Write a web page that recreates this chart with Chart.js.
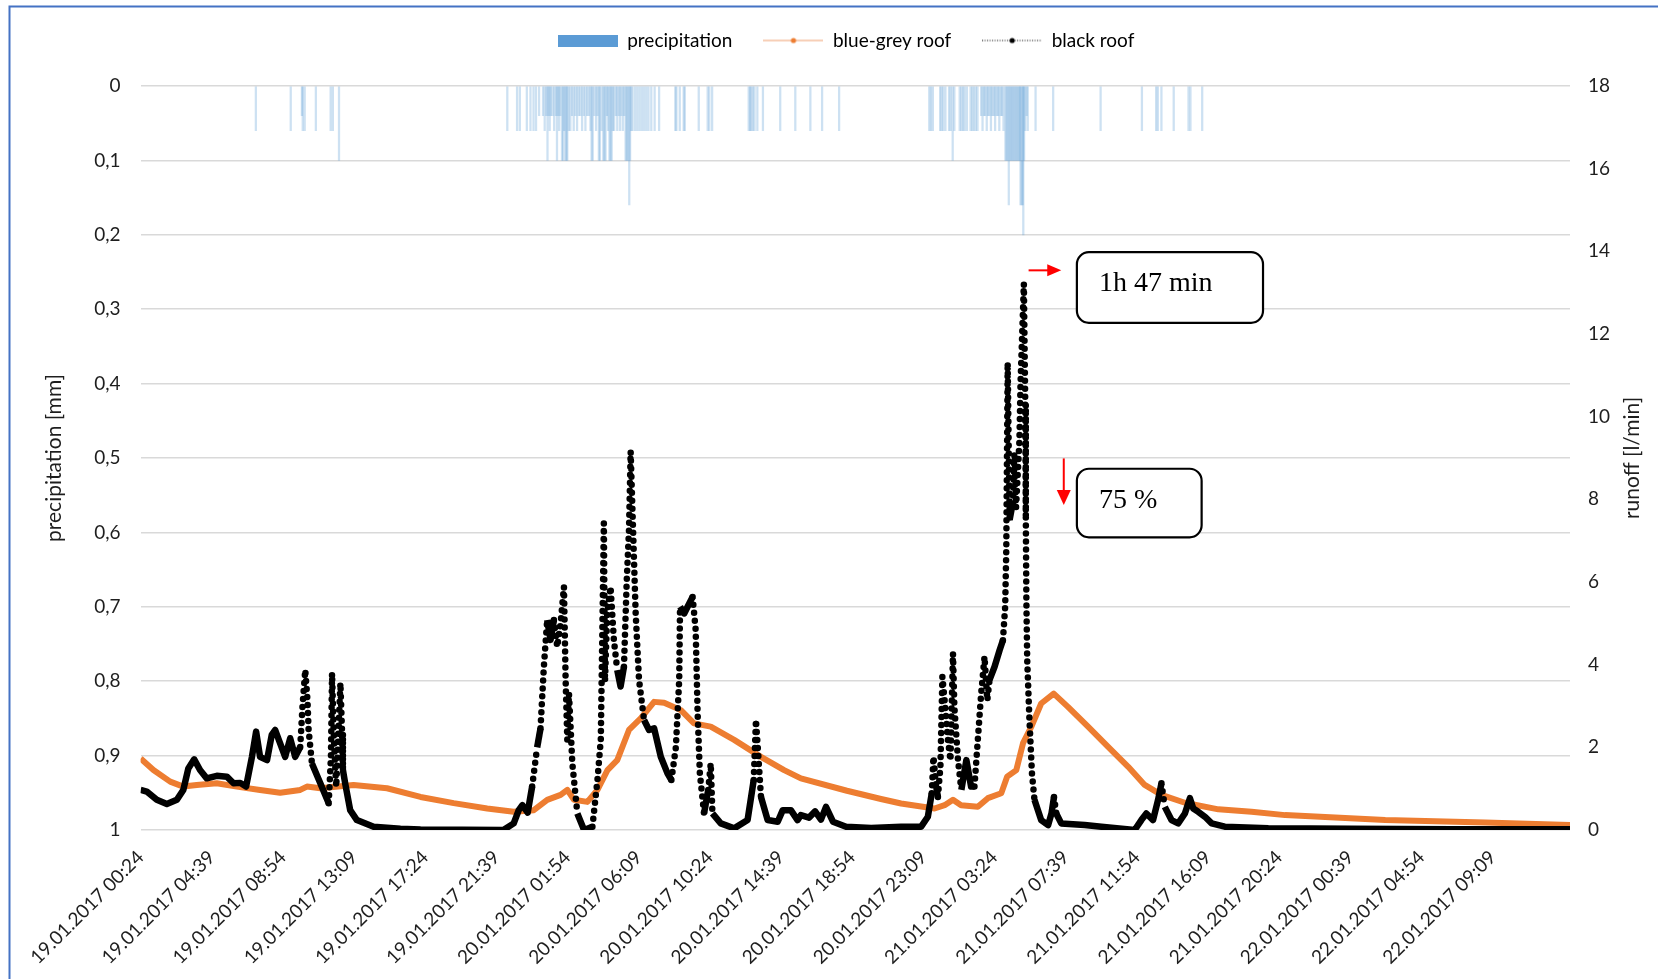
<!DOCTYPE html>
<html>
<head>
<meta charset="utf-8">
<script src="https://cdn.jsdelivr.net/npm/chart.js@4.4.1/dist/chart.umd.min.js"></script>
<style>
  html, body { margin: 0; padding: 0; background: #fff; }
  #wrap { width: 1658px; height: 979px; position: relative; }
</style>
</head>
<body>
<div id="wrap"><canvas id="runoffChart"></canvas></div>
<script>
// time axis: minutes after 19.01.2017 00:24 (one reading per minute in the original)
const tickLabels = [
  '19.01.2017 00:24', '19.01.2017 04:39', '19.01.2017 08:54', '19.01.2017 13:09',
  '19.01.2017 17:24', '19.01.2017 21:39', '20.01.2017 01:54', '20.01.2017 06:09',
  '20.01.2017 10:24', '20.01.2017 14:39', '20.01.2017 18:54', '20.01.2017 23:09',
  '21.01.2017 03:24', '21.01.2017 07:39', '21.01.2017 11:54', '21.01.2017 16:09',
  '21.01.2017 20:24', '22.01.2017 00:39', '22.01.2017 04:54', '22.01.2017 09:09'
];

// precipitation [mm], bars hanging from the top axis
const precipMin = [
  413, 538, 578, 581, 588, 628, 681, 689, 711,
  1314, 1349, 1359, 1384, 1397, 1408, 1417, 1428,
  1442, 1448, 1454, 1458, 1462, 1466, 1470, 1476, 1482, 1488, 1492,
  1496, 1500, 1504, 1510, 1514, 1518, 1522, 1526, 1529, 1534, 1540,
  1546, 1552, 1558, 1564, 1570, 1576, 1582, 1588, 1594, 1600, 1606, 1612, 1616, 1620, 1626,
  1632, 1637, 1642, 1646, 1652, 1658, 1662, 1666, 1671, 1675, 1680, 1684, 1688, 1692, 1697,
  1703, 1708, 1713, 1718, 1723, 1728, 1733, 1738, 1742, 1746, 1751, 1754, 1758, 1763,
  1772, 1780, 1788, 1796, 1804, 1812, 1820, 1830, 1842, 1858,
  1916, 1920, 1932, 1946, 1950, 2000, 2032, 2038, 2048,
  2179, 2184, 2188, 2194, 2200, 2210, 2230, 2292, 2346, 2400, 2442, 2503,
  2826, 2832, 2839, 2865, 2870, 2876, 2884, 2897, 2903, 2910, 2916,
  2935, 2941, 2947, 2953, 2961, 2974, 2980, 2986, 2993, 2999,
  3012, 3017, 3022, 3027, 3032, 3037, 3042, 3047, 3052, 3057, 3062, 3067, 3072, 3077, 3082, 3087, 3092,
  3099, 3103, 3107, 3111, 3115, 3119, 3123, 3127, 3131, 3135, 3139, 3143, 3147, 3151,
  3153, 3157, 3161, 3163, 3166, 3170, 3175, 3179,
  3207, 3270, 3440, 3588, 3639, 3645, 3658, 3702, 3755, 3762, 3804
];
const precipMm = [
  0.06, 0.06, 0.04, 0.06, 0.06, 0.06, 0.06, 0.06, 0.1,
  0.06, 0.06, 0.06, 0.06, 0.06, 0.06, 0.06, 0.04,
  0.04, 0.06, 0.04, 0.1, 0.04, 0.06, 0.04, 0.04, 0.06, 0.04, 0.1,
  0.04, 0.06, 0.04, 0.1, 0.1, 0.06, 0.1, 0.1, 0.1, 0.06, 0.06,
  0.04, 0.06, 0.04, 0.06, 0.04, 0.04, 0.06, 0.04, 0.06, 0.04, 0.04, 0.06, 0.1, 0.1, 0.04,
  0.06, 0.04, 0.1, 0.1, 0.06, 0.1, 0.1, 0.1, 0.04, 0.06, 0.1, 0.1, 0.1, 0.06, 0.06,
  0.04, 0.06, 0.04, 0.06, 0.04, 0.06, 0.04, 0.1, 0.1, 0.1, 0.16, 0.1, 0.06, 0.06,
  0.06, 0.06, 0.06, 0.06, 0.06, 0.06, 0.06, 0.06, 0.06, 0.06,
  0.06, 0.06, 0.06, 0.06, 0.06, 0.06, 0.06, 0.06, 0.06,
  0.06, 0.06, 0.06, 0.06, 0.06, 0.06, 0.06, 0.06, 0.06, 0.06, 0.06, 0.06,
  0.06, 0.06, 0.06, 0.06, 0.06, 0.06, 0.06, 0.06, 0.06, 0.1, 0.06,
  0.06, 0.06, 0.06, 0.06, 0.06, 0.06, 0.06, 0.06, 0.06, 0.06,
  0.04, 0.06, 0.04, 0.04, 0.06, 0.04, 0.04, 0.06, 0.04, 0.04, 0.06, 0.04, 0.04, 0.06, 0.04, 0.04, 0.06,
  0.1, 0.1, 0.1, 0.16, 0.1, 0.1, 0.1, 0.1, 0.1, 0.1, 0.1, 0.1, 0.1, 0.1,
  0.16, 0.16, 0.16, 0.2, 0.1, 0.06, 0.04, 0.06,
  0.06, 0.06, 0.06, 0.06, 0.06, 0.06, 0.06, 0.06, 0.06, 0.06, 0.06
];

// runoff [l/min], blue-grey roof
const greyMin = [
  0, 46, 106, 153, 201, 273, 345, 428, 500, 572,
  596, 644, 763, 883, 1003, 1122, 1242, 1337, 1409, 1457,
  1505, 1529, 1553, 1601, 1637, 1673, 1708, 1750, 1792, 1840,
  1876, 1936, 1983, 2043, 2127, 2223, 2306, 2366, 2531, 2653,
  2725, 2845, 2881, 2911, 2940, 3000, 3036, 3084, 3105, 3138,
  3162, 3192, 3227, 3272, 3323, 3395, 3467, 3539, 3598, 3658,
  3742, 3862, 3981, 4101, 4460, 4818, 5122
];
const greyRunoff = [
  1.73, 1.45, 1.17, 1.05, 1.09, 1.13, 1.05, 0.97, 0.90, 0.97,
  1.05, 1.01, 1.09, 1.01, 0.80, 0.65, 0.52, 0.44, 0.48, 0.73,
  0.85, 0.97, 0.73, 0.68, 0.97, 1.45, 1.69, 2.42, 2.70, 3.10,
  3.08, 2.90, 2.58, 2.50, 2.18, 1.77, 1.45, 1.25, 0.95, 0.75,
  0.64, 0.52, 0.60, 0.73, 0.60, 0.56, 0.77, 0.89, 1.29, 1.45,
  2.10, 2.50, 3.06, 3.30, 2.98, 2.50, 2.01, 1.53, 1.09, 0.85,
  0.66, 0.50, 0.44, 0.36, 0.24, 0.18, 0.12
];

// runoff [l/min], black roof
const blackMin = [
  0, 22, 58, 94, 130, 153, 171, 192, 213, 237,
  273, 309, 333, 357, 378, 399, 414, 428, 453, 470,
  482, 498, 518, 536, 554, 572, 580, 590, 598, 602,
  614, 644, 674, 682, 686, 692, 701, 716, 722, 725,
  733, 751, 775, 835, 931, 1003, 1300, 1337, 1355, 1368,
  1387, 1403, 1421, 1433, 1445, 1457, 1469, 1481, 1493, 1505,
  1517, 1523, 1529, 1535, 1547, 1565, 1589, 1619, 1637, 1649,
  1660, 1664, 1672, 1684, 1696, 1708, 1720, 1732, 1742, 1750,
  1756, 1768, 1774, 1786, 1804, 1822, 1840, 1864, 1888, 1902,
  1918, 1930, 1933, 1948, 1960, 1978, 1989, 1996, 2004, 2019,
  2034, 2043, 2049, 2079, 2127, 2175, 2197, 2205, 2213, 2223,
  2247, 2283, 2301, 2330, 2354, 2366, 2395, 2417, 2438, 2456,
  2481, 2528, 2618, 2725, 2797, 2821, 2835, 2841, 2851, 2857,
  2866, 2873, 2881, 2893, 2902, 2911, 2916, 2929, 2941, 2959,
  2976, 2988, 3000, 3012, 3024, 3034, 3042, 3060, 3078, 3090,
  3098, 3102, 3107, 3111, 3114, 3125, 3131, 3137, 3143, 3149,
  3153, 3159, 3165, 3170, 3172, 3174, 3177, 3185, 3194, 3203,
  3227, 3252, 3264, 3273, 3281, 3299, 3383, 3443, 3562, 3586,
  3604, 3628, 3646, 3658, 3670, 3694, 3718, 3742, 3760, 3772,
  3790, 3814, 3838, 3885, 4041, 4340, 4699, 5122
];
const blackRunoff = [
  0.97, 0.93, 0.73, 0.63, 0.73, 0.97, 1.49, 1.71, 1.45, 1.25,
  1.31, 1.29, 1.13, 1.14, 1.05, 1.77, 2.38, 1.77, 1.69, 2.30,
  2.42, 2.13, 1.77, 2.22, 1.77, 2.01, 2.98, 3.87, 3.14, 2.42,
  1.61, 1.13, 0.65, 1.77, 3.79, 2.34, 1.05, 3.55, 2.34, 1.45,
  1.13, 0.48, 0.24, 0.08, 0.03, 0.01, 0.00, 0.16, 0.48, 0.60,
  0.42, 1.05, 2.00, 2.46, 3.95, 5.08, 4.60, 5.08, 4.43, 5.00,
  5.88, 3.63, 2.18, 3.30, 1.61, 0.40, 0.00, 0.08, 1.21, 2.18,
  7.42, 3.60, 5.24, 5.88, 4.59, 3.87, 3.47, 3.95, 6.04, 7.25,
  9.15, 6.53, 5.24, 3.63, 2.66, 2.42, 2.46, 1.77, 1.37, 1.21,
  2.00, 3.63, 5.40, 5.24, 5.40, 5.64, 4.84, 2.82, 1.37, 0.40,
  0.97, 1.61, 0.40, 0.16, 0.04, 0.24, 1.21, 2.66, 1.85, 0.80,
  0.24, 0.20, 0.48, 0.48, 0.24, 0.36, 0.30, 0.45, 0.25, 0.56,
  0.20, 0.08, 0.05, 0.08, 0.08, 0.32, 0.89, 1.77, 1.05, 0.80,
  1.53, 3.71, 3.14, 2.18, 1.69, 4.27, 2.98, 1.69, 0.97, 1.69,
  1.05, 1.05, 2.18, 3.30, 4.19, 3.14, 3.63, 3.95, 4.35, 4.59,
  5.40, 6.77, 11.30, 9.10, 7.50, 7.90, 9.10, 7.80, 8.60, 9.40,
  10.80, 12.00, 13.21, 10.30, 7.60, 5.56, 4.11, 2.66, 1.37, 0.73,
  0.24, 0.12, 0.40, 0.80, 0.40, 0.16, 0.12, 0.08, 0.00, 0.24,
  0.40, 0.24, 0.73, 1.13, 0.56, 0.24, 0.16, 0.40, 0.77, 0.52,
  0.44, 0.32, 0.16, 0.08, 0.04, 0.03, 0.02, 0.02
];

// call-outs, in axis units (minutes, l/min)
const lagNote = { text: '1h 47 min', x0: 3355, x1: 4022, yTop: 13.98, yBot: 12.27 };
const peakNote = { text: '75 %', x0: 3355, x1: 3802, yTop: 8.74, yBot: 7.08 };
const lagArrow = { x0: 3182, x1: 3299, y: 13.54 };
const peakArrow = { x: 3308, y0: 8.99, y1: 7.86 };

function toMinutes(label) {
  const [d, t] = label.split(' ');
  const [dd, mo, yy] = d.split('.').map(Number);
  const [hh, mi] = t.split(':').map(Number);
  return (Date.UTC(yy, mo - 1, dd, hh, mi) - Date.UTC(2017, 0, 19, 0, 24)) / 60000;
}

const pairs = (xs, ys) => xs.map((x, i) => ({ x, y: ys[i] }));
const comma = v => String(Math.round(v * 10) / 10).replace('.', ',');

function legendIcon(kind) {
  const c = document.createElement('canvas');
  c.width = 60; c.height = 12;
  const g = c.getContext('2d');
  if (kind === 'bar') {
    g.fillStyle = '#5B9BD5';
    g.fillRect(0, 0, 60, 12);
    return c;
  }
  g.beginPath();
  g.moveTo(0, 6); g.lineTo(60, 6);
  if (kind === 'grey') {
    g.strokeStyle = '#F0A070'; g.lineWidth = 1.2;
  } else {
    g.strokeStyle = '#000'; g.lineWidth = 1; g.setLineDash([1, 1.5]);
  }
  g.stroke();
  g.beginPath();
  g.arc(30, 6, 2.6, 0, Math.PI * 2);
  g.fillStyle = kind === 'grey' ? '#ED7D31' : '#000';
  g.fill();
  return c;
}
const icons = [legendIcon('bar'), legendIcon('grey'), legendIcon('black')];

// minute readings of the black roof sit so far apart on steep flanks that
// Excel shows them as separate dots, elsewhere they merge into a thick line
function steep(c) {
  const dx = Math.abs(c.p1.x - c.p0.x);
  const dy = Math.abs(c.p1.y - c.p0.y);
  return dy / Math.max(dx, 0.01) > 7;
}

const frame = {
  id: 'frame',
  beforeDraw(chart) {
    const { ctx, width, height } = chart;
    ctx.save();
    ctx.fillStyle = '#fff';
    ctx.fillRect(0, 0, width, height);
    ctx.strokeStyle = '#4472C4';
    ctx.lineWidth = 2;
    ctx.beginPath();
    ctx.moveTo(9.5, height); ctx.lineTo(9.5, 6.5); ctx.lineTo(width, 6.5);
    ctx.stroke();
    ctx.restore();
  }
};

const legendSpace = {
  id: 'legendSpace',
  beforeInit(chart) {
    const fit = chart.legend.fit;
    chart.legend.fit = function () {
      fit.call(this);
      this.height = 86;
    };
  }
};

function roundBox(ctx, x, y, w, h, r) {
  ctx.beginPath();
  ctx.moveTo(x + r, y);
  ctx.lineTo(x + w - r, y);
  ctx.arcTo(x + w, y, x + w, y + r, r);
  ctx.lineTo(x + w, y + h - r);
  ctx.arcTo(x + w, y + h, x + w - r, y + h, r);
  ctx.lineTo(x + r, y + h);
  ctx.arcTo(x, y + h, x, y + h - r, r);
  ctx.lineTo(x, y + r);
  ctx.arcTo(x, y, x + r, y, r);
  ctx.closePath();
}

const notes = {
  id: 'notes',
  afterDraw(chart) {
    const { ctx } = chart;
    const x = chart.scales.x, y = chart.scales.yR;
    ctx.save();

    // right axis title, reading bottom to top
    ctx.fillStyle = '#1e1e1e';
    ctx.font = '21px Lato';
    ctx.textAlign = 'center';
    ctx.textBaseline = 'middle';
    ctx.translate(1632, (chart.chartArea.top + chart.chartArea.bottom) / 2);
    ctx.rotate(-Math.PI / 2);
    ctx.fillText('runoff [l/min]', 0, 0);
    ctx.setTransform(1, 0, 0, 1, 0, 0);

    [lagNote, peakNote].forEach(n => {
      const left = x.getPixelForValue(n.x0), right = x.getPixelForValue(n.x1);
      const top = y.getPixelForValue(n.yTop), bot = y.getPixelForValue(n.yBot);
      roundBox(ctx, left, top, right - left, bot - top, 12);
      ctx.fillStyle = '#fff';
      ctx.fill();
      ctx.lineWidth = 2.2;
      ctx.strokeStyle = '#000';
      ctx.stroke();
      ctx.fillStyle = '#000';
      ctx.font = '28px "Liberation Serif"';
      ctx.textAlign = 'left';
      ctx.textBaseline = 'alphabetic';
      ctx.fillText(n.text, left + 22, top + 39);
    });

    ctx.strokeStyle = '#FF0000';
    ctx.fillStyle = '#FF0000';
    ctx.lineWidth = 2;
    // horizontal arrow
    const ax0 = x.getPixelForValue(lagArrow.x0), ax1 = x.getPixelForValue(lagArrow.x1);
    const ay = y.getPixelForValue(lagArrow.y);
    ctx.beginPath(); ctx.moveTo(ax0, ay); ctx.lineTo(ax1 - 12, ay); ctx.stroke();
    ctx.beginPath(); ctx.moveTo(ax1, ay); ctx.lineTo(ax1 - 14, ay - 6); ctx.lineTo(ax1 - 14, ay + 6); ctx.closePath(); ctx.fill();
    // vertical arrow
    const bx = x.getPixelForValue(peakArrow.x);
    const by0 = y.getPixelForValue(peakArrow.y0), by1 = y.getPixelForValue(peakArrow.y1);
    ctx.beginPath(); ctx.moveTo(bx, by0); ctx.lineTo(bx, by1 - 12); ctx.stroke();
    ctx.beginPath(); ctx.moveTo(bx, by1); ctx.lineTo(bx - 7, by1 - 15); ctx.lineTo(bx + 7, by1 - 15); ctx.closePath(); ctx.fill();

    ctx.restore();
  }
};

function drawChart() {
  Chart.defaults.font.family = 'Lato';
  Chart.defaults.color = '#1e1e1e';

  const ctx = document.getElementById('runoffChart').getContext('2d');
  new Chart(ctx, {
    type: 'line',
    data: {
      datasets: [
        {
          type: 'bar',
          label: 'precipitation',
          data: pairs(precipMin, precipMm),
          yAxisID: 'yL',
          backgroundColor: 'rgba(91,155,213,0.3)',
          borderWidth: 0,
          barThickness: 1.6,
          order: 2
        },
        {
          label: 'blue-grey roof',
          data: pairs(greyMin, greyRunoff),
          yAxisID: 'yR',
          borderColor: '#ED7D31',
          borderWidth: 6,
          borderJoinStyle: 'round',
          pointRadius: 0,
          tension: 0,
          order: 1
        },
        {
          label: 'black roof',
          data: pairs(blackMin, blackRunoff),
          yAxisID: 'yR',
          borderColor: '#000',
          borderWidth: 6.5,
          borderJoinStyle: 'round',
          pointRadius: 0,
          tension: 0,
          order: 0,
          segment: {
            borderDash: c => steep(c) ? [0, 8] : [],
            borderCapStyle: c => steep(c) ? 'round' : 'butt',
            borderWidth: c => steep(c) ? 6.5 : 6.5
          }
        }
      ]
    },
    options: {
      responsive: true,
      maintainAspectRatio: false,
      animation: false,
      events: [],
      layout: { padding: { left: 34, right: 0, top: 0, bottom: 0 } },
      scales: {
        x: {
          type: 'linear',
          min: 0,
          max: blackMin[blackMin.length - 1],
          offset: false,
          grid: { display: false },
          border: { display: false },
          afterBuildTicks: s => { s.ticks = tickLabels.map(l => ({ value: toMinutes(l) })); },
          afterFit: s => { s.height = 149; },
          ticks: {
            autoSkip: false,
            minRotation: 45,
            maxRotation: 45,
            padding: 8,
            font: { size: 19 },
            callback: (v, i) => tickLabels[i]
          }
        },
        yL: {
          position: 'left',
          reverse: true,
          min: 0,
          max: 1,
          afterFit: s => { s.width = 106.6; },
          grid: { color: '#d9d9d9', lineWidth: 1.5, drawTicks: false },
          border: { display: false },
          ticks: { stepSize: 0.1, padding: 20, font: { size: 19 }, callback: v => comma(v) },
          title: { display: true, text: 'precipitation [mm]', font: { size: 21 }, padding: { top: 8, bottom: 0 } }
        },
        yR: {
          position: 'right',
          min: 0,
          max: 18,
          afterFit: s => { s.width = 88; },
          grid: { display: false, drawTicks: false },
          border: { display: false },
          ticks: { stepSize: 2, padding: 18, font: { size: 19 } }
        }
      },
      plugins: {
        tooltip: { enabled: false },
        legend: {
          position: 'top',
          labels: {
            usePointStyle: true,
            pointStyleWidth: 60,
            padding: 31,
            font: { size: 19 },
            generateLabels: chart => chart.data.datasets.map((ds, i) => ({
              text: ds.label,
              pointStyle: icons[i],
              fillStyle: 'transparent',
              strokeStyle: 'transparent',
              lineWidth: 0,
              hidden: false,
              datasetIndex: i
            }))
          }
        }
      }
    },
    plugins: [frame, legendSpace, notes]
  });
}

document.fonts.load('19px Lato').then(drawChart, drawChart);
</script>
</body>
</html>
